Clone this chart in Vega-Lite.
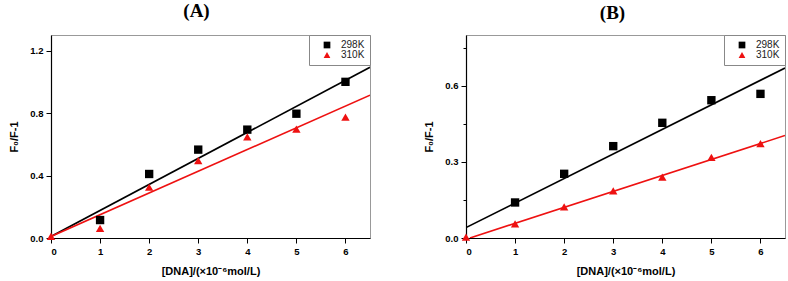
{
  "$schema": "https://vega.github.io/schema/vega-lite/v6.json",
  "padding": {"left": 8, "top": 1, "right": 4, "bottom": 4},
  "background": "white",
  "datasets": {
    "pts": [
      {"panel": "A", "temp": "298K", "x": 1, "y": 0.115},
      {"panel": "A", "temp": "298K", "x": 2, "y": 0.41},
      {"panel": "A", "temp": "298K", "x": 3, "y": 0.566},
      {"panel": "A", "temp": "298K", "x": 4, "y": 0.694},
      {"panel": "A", "temp": "298K", "x": 5, "y": 0.796},
      {"panel": "A", "temp": "298K", "x": 6, "y": 1.0},
      {"panel": "A", "temp": "310K", "x": 0, "y": 0.01},
      {"panel": "A", "temp": "310K", "x": 1, "y": 0.062},
      {"panel": "A", "temp": "310K", "x": 2, "y": 0.325},
      {"panel": "A", "temp": "310K", "x": 3, "y": 0.496},
      {"panel": "A", "temp": "310K", "x": 4, "y": 0.647},
      {"panel": "A", "temp": "310K", "x": 5, "y": 0.698},
      {"panel": "A", "temp": "310K", "x": 6, "y": 0.774},
      {"panel": "B", "temp": "298K", "x": 1, "y": 0.14},
      {"panel": "B", "temp": "298K", "x": 2, "y": 0.253},
      {"panel": "B", "temp": "298K", "x": 3, "y": 0.362},
      {"panel": "B", "temp": "298K", "x": 4, "y": 0.454},
      {"panel": "B", "temp": "298K", "x": 5, "y": 0.543},
      {"panel": "B", "temp": "298K", "x": 6, "y": 0.568},
      {"panel": "B", "temp": "310K", "x": 0, "y": 0.003},
      {"panel": "B", "temp": "310K", "x": 1, "y": 0.056},
      {"panel": "B", "temp": "310K", "x": 2, "y": 0.123},
      {"panel": "B", "temp": "310K", "x": 3, "y": 0.186},
      {"panel": "B", "temp": "310K", "x": 4, "y": 0.24},
      {"panel": "B", "temp": "310K", "x": 5, "y": 0.318},
      {"panel": "B", "temp": "310K", "x": 6, "y": 0.372}
    ],
    "fit": [
      {"panel": "A", "temp": "298K", "x": 0, "y": 0.01},
      {"panel": "A", "temp": "298K", "x": 6.5, "y": 1.093},
      {"panel": "A", "temp": "310K", "x": 0, "y": 0.01},
      {"panel": "A", "temp": "310K", "x": 6.5, "y": 0.915},
      {"panel": "B", "temp": "298K", "x": 0, "y": 0.041},
      {"panel": "B", "temp": "298K", "x": 6.5, "y": 0.67},
      {"panel": "B", "temp": "310K", "x": 0.08, "y": 0},
      {"panel": "B", "temp": "310K", "x": 6.5, "y": 0.404}
    ]
  },
  "config": {
    "view": {"stroke": "#999", "strokeWidth": 1},
    "font": "Liberation Sans",
    "axis": {
      "grid": false,
      "domainColor": "black",
      "domainWidth": 1.2,
      "tickColor": "black",
      "labelFont": "Liberation Sans",
      "labelFontWeight": "bold",
      "labelFontSize": 9.5,
      "labelColor": "black",
      "labelPadding": 3,
      "titleFont": "Liberation Sans",
      "titleFontWeight": "bold",
      "titleFontSize": 11,
      "titleColor": "black"
    },
    "title": {"font": "Liberation Serif", "fontSize": 19, "fontWeight": "bold", "color": "black"},
    "legend": {
      "orient": "top-right",
      "offset": 0,
      "padding": 5,
      "strokeColor": "#888",
      "fillColor": "white",
      "labelFont": "Liberation Sans",
      "labelFontSize": 10,
      "labelColor": "#222",
      "symbolSize": 45,
      "symbolOffset": 8,
      "labelOffset": 9,
      "rowPadding": 0,
      "title": null
    },
    "concat": {"spacing": 52}
  },
  "hconcat": [
    {
      "width": 319,
      "height": 203,
      "title": {"text": "(A)", "anchor": "middle", "frame": "group", "dx": -14, "offset": 14},
      "layer": [
        {
          "data": {"name": "fit"},
          "transform": [{"filter": "datum.panel === 'A'"}],
          "mark": {"type": "line", "strokeWidth": 1.6, "clip": true},
          "encoding": {
            "x": {"field": "x", "type": "quantitative"},
            "y": {"field": "y", "type": "quantitative"},
            "detail": {"field": "temp"},
            "stroke": {"field": "temp", "type": "nominal", "scale": {"domain": ["298K", "310K"], "range": ["black", "#ee1111"]}, "legend": null}
          }
        },
        {
          "data": {"name": "pts"},
          "transform": [{"filter": "datum.panel === 'A'"}],
          "mark": {"type": "point", "filled": true, "opacity": 1},
          "encoding": {
            "x": {
              "field": "x", "type": "quantitative",
              "scale": {"domain": [0, 6.5], "nice": false, "zero": false},
              "axis": {
                "title": "[DNA]/(×10⁻⁶mol/L)",
                "titlePadding": 10,
                "values": [0, 0.5, 1, 1.5, 2, 2.5, 3, 3.5, 4, 4.5, 5, 5.5, 6, 6.5],
                "labelExpr": "datum.value % 1 === 0 ? format(datum.value, 'd') : ''",
                "tickSize": {"condition": {"test": "datum.value % 1 !== 0", "value": 3}, "value": 5}
              }
            },
            "y": {
              "field": "y", "type": "quantitative",
              "scale": {"domain": [0, 1.3], "nice": false},
              "axis": {
                "title": "F₀/F-1",
                "titlePadding": 10,
                "values": [0, 0.2, 0.4, 0.6, 0.8, 1.0, 1.2],
                "labelExpr": "abs(datum.value/0.4 - round(datum.value/0.4)) < 0.001 ? format(datum.value, '.1f') : ''",
                "tickSize": {"condition": {"test": "abs(datum.value/0.4 - round(datum.value/0.4)) > 0.001", "value": 3}, "value": 5}
              }
            },
            "color": {"field": "temp", "type": "nominal", "scale": {"domain": ["298K", "310K"], "range": ["black", "#ee1111"]}},
            "shape": {"field": "temp", "type": "nominal", "scale": {"domain": ["298K", "310K"], "range": ["square", "triangle-up"]}},
            "size": {"value": 70}
          }
        }
      ],
      "resolve": {"scale": {"color": "independent", "shape": "independent"}}
    },
    {
      "width": 319,
      "height": 203,
      "title": {"text": "(B)", "anchor": "middle", "frame": "group", "dx": -13, "offset": 12},
      "layer": [
        {
          "data": {"name": "fit"},
          "transform": [{"filter": "datum.panel === 'B'"}],
          "mark": {"type": "line", "strokeWidth": 1.6, "clip": true},
          "encoding": {
            "x": {"field": "x", "type": "quantitative"},
            "y": {"field": "y", "type": "quantitative"},
            "detail": {"field": "temp"},
            "stroke": {"field": "temp", "type": "nominal", "scale": {"domain": ["298K", "310K"], "range": ["black", "#ee1111"]}, "legend": null}
          }
        },
        {
          "data": {"name": "pts"},
          "transform": [{"filter": "datum.panel === 'B'"}],
          "mark": {"type": "point", "filled": true, "opacity": 1},
          "encoding": {
            "x": {
              "field": "x", "type": "quantitative",
              "scale": {"domain": [0, 6.5], "nice": false, "zero": false},
              "axis": {
                "title": "[DNA]/(×10⁻⁶mol/L)",
                "titlePadding": 10,
                "values": [0, 0.5, 1, 1.5, 2, 2.5, 3, 3.5, 4, 4.5, 5, 5.5, 6, 6.5],
                "labelExpr": "datum.value % 1 === 0 ? format(datum.value, 'd') : ''",
                "tickSize": {"condition": {"test": "datum.value % 1 !== 0", "value": 3}, "value": 5}
              }
            },
            "y": {
              "field": "y", "type": "quantitative",
              "scale": {"domain": [0, 0.8], "nice": false},
              "axis": {
                "title": "F₀/F-1",
                "titlePadding": 10,
                "values": [0, 0.15, 0.3, 0.45, 0.6, 0.75],
                "labelExpr": "abs(datum.value/0.3 - round(datum.value/0.3)) < 0.001 ? format(datum.value, '.1f') : ''",
                "tickSize": {"condition": {"test": "abs(datum.value/0.3 - round(datum.value/0.3)) > 0.001", "value": 3}, "value": 5}
              }
            },
            "color": {"field": "temp", "type": "nominal", "scale": {"domain": ["298K", "310K"], "range": ["black", "#ee1111"]}},
            "shape": {"field": "temp", "type": "nominal", "scale": {"domain": ["298K", "310K"], "range": ["square", "triangle-up"]}},
            "size": {"value": 70}
          }
        }
      ],
      "resolve": {"scale": {"color": "independent", "shape": "independent"}}
    }
  ],
  "resolve": {"scale": {"color": "independent", "shape": "independent", "stroke": "independent", "x": "independent", "y": "independent"}, "legend": {"color": "independent", "shape": "independent"}}
}
